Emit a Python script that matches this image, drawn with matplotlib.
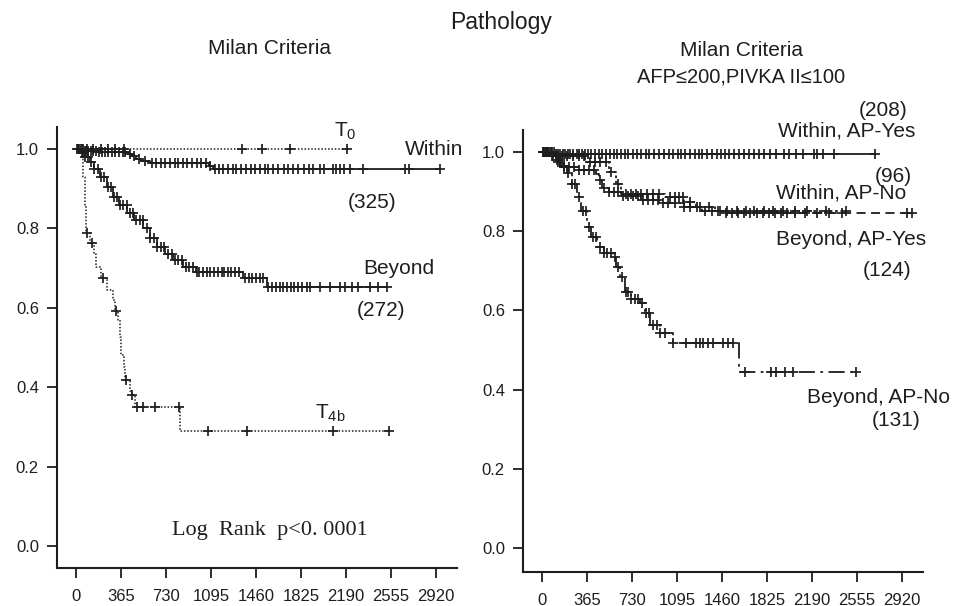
import numpy as np
import matplotlib
matplotlib.use('Agg')
import matplotlib.pyplot as plt

plt.rcParams['font.family'] = ['Liberation Sans', 'DejaVu Sans']

INK = '#1e1e1e'

# ---- left panel: Milan criteria (pathology) ----
t0_times = []
t0_surv = []
t0_end = 2198
t0_cens = [15, 45, 90, 140, 200, 260, 320, 390, 1346, 1508, 1736, 2198]

within_times = [60, 180, 420, 450, 490, 530, 600, 1080, 1110]
within_surv = [0.996, 0.992, 0.988, 0.982, 0.976, 0.971, 0.966, 0.958, 0.950]
within_end = 2952
within_cens = [10, 25, 40, 55, 70, 85, 100, 120, 140, 160, 185, 210, 235, 260, 290,
               320, 350, 380, 400, 440, 470, 510, 560, 620, 650, 690, 720, 760, 800,
               830, 870, 900, 940, 980, 1010, 1050, 1090, 1130, 1160, 1190, 1230,
               1270, 1300, 1340, 1380, 1420, 1450, 1490, 1530, 1560, 1600, 1640,
               1690, 1720, 1760, 1800, 1850, 1890, 1920, 1980, 2010, 2080, 2110,
               2140, 2170, 2220, 2330, 2670, 2700, 2952]

beyond_times = [30, 60, 114, 150, 195, 250, 303, 350, 411, 470, 546, 600, 655,
                720, 789, 870, 973, 1357, 1547]
beyond_surv = [0.990, 0.980, 0.968, 0.950, 0.930, 0.905, 0.880, 0.860, 0.838,
               0.820, 0.800, 0.775, 0.754, 0.735, 0.720, 0.703, 0.690, 0.676, 0.652]
beyond_end = 2522
beyond_cens = [20, 45, 70, 95, 125, 150, 175, 200, 230, 260, 285, 310, 335, 360,
               385, 410, 440, 465, 490, 520, 545, 575, 600, 630, 660, 690, 715, 745,
               775, 800, 830, 860, 890, 920, 950, 980, 1000, 1030, 1060, 1090, 1120,
               1150, 1180, 1200, 1230, 1260, 1290, 1320, 1370, 1400, 1430, 1460,
               1490, 1520, 1560, 1590, 1620, 1650, 1680, 1710, 1740, 1770, 1800,
               1830, 1870, 1900, 1979, 2060, 2141, 2182, 2238, 2287, 2385, 2450, 2522]

t4b_times = [57, 70, 80, 110, 150, 165, 200, 250, 300, 320, 340, 355, 365, 390,
             400, 440, 450, 475, 845]
t4b_surv = [0.93, 0.86, 0.788, 0.762, 0.735, 0.704, 0.674, 0.645, 0.62, 0.593,
            0.57, 0.527, 0.48, 0.45, 0.418, 0.39, 0.38, 0.349, 0.29]
t4b_end = 2541
t4b_cens = [92, 127, 216, 324, 405, 452, 492, 546, 641, 835, 1073, 1384, 2087, 2541]

# ---- right panel: Milan criteria + AFP / PIVKA II ----
wy_times = [100]
wy_surv = [0.995]
wy_end = 2703
wy_cens = [5, 20, 35, 50, 65, 80, 95, 110, 130, 150, 170, 190, 210, 230, 255, 280,
           300, 325, 350, 375, 400, 430, 460, 490, 520, 550, 580, 610, 640, 670,
           700, 735, 770, 800, 840, 870, 910, 950, 990, 1030, 1060, 1100, 1130,
           1160, 1200, 1240, 1270, 1300, 1340, 1380, 1420, 1450, 1480, 1520, 1560,
           1600, 1640, 1680, 1720, 1760, 1800, 1850, 1900, 1960, 2000, 2060, 2112,
           2209, 2233, 2274, 2371, 2703]

wn_times = [100, 350, 540, 600, 640, 1000, 1150, 1250, 1400]
wn_surv = [0.990, 0.975, 0.950, 0.920, 0.895, 0.887, 0.875, 0.862, 0.850]
wn_end = 2468
wn_cens = [30, 70, 110, 160, 200, 250, 300, 340, 390, 430, 470, 520, 560, 620, 680,
           720, 760, 800, 850, 900, 950, 1040, 1080, 1110, 1140, 1200, 1280, 1350,
           1430, 1500, 1580, 1650, 1720, 1800, 1870, 1950, 2050, 2150, 2300, 2468]

by_times = [60, 120, 150, 300, 440, 460, 490, 540, 650, 800, 950, 1150, 1300, 1450]
by_surv = [0.990, 0.975, 0.962, 0.955, 0.945, 0.930, 0.910, 0.900, 0.890, 0.880,
           0.870, 0.860, 0.850, 0.847]
by_end = 3003
by_cens = [15, 50, 90, 130, 180, 220, 260, 300, 340, 380, 420, 470, 500, 540, 580,
           620, 660, 700, 740, 780, 820, 860, 900, 940, 980, 1020, 1080, 1150, 1200,
           1260, 1320, 1380, 1440, 1490, 1540, 1590, 1640, 1690, 1740, 1790, 1840,
           1890, 1940, 1990, 2050, 2130, 2230, 2330, 2430, 2960, 3003]

bn_times = [60, 119, 160, 200, 240, 281, 320, 362, 400, 443, 500, 578, 600, 631,
            672, 720, 793, 834, 874, 955, 1063, 1597]
bn_surv = [0.990, 0.980, 0.965, 0.946, 0.920, 0.887, 0.850, 0.811, 0.785, 0.761,
           0.745, 0.736, 0.710, 0.685, 0.647, 0.630, 0.618, 0.593, 0.563, 0.542,
           0.517, 0.445]
bn_end = 2547
bn_cens = [10, 40, 80, 120, 150, 180, 210, 240, 270, 300, 330, 355, 380, 410, 440,
           470, 500, 530, 560, 590, 620, 650, 680, 700, 720, 750, 780, 810, 840,
           870, 900, 930, 960, 1000, 1063, 1171, 1252, 1279, 1306, 1346, 1387, 1467,
           1508, 1548, 1643, 1859, 1900, 1967, 2034, 2547]

x_ticks = [0, 365, 730, 1095, 1460, 1825, 2190, 2555, 2920]
y_ticks = [0.0, 0.2, 0.4, 0.6, 0.8, 1.0]


def km_curve(ax, times, surv, end, cens, ls, lw=1.3):
    t = np.array([0] + list(times) + [end], dtype=float)
    s = np.array([1.0] + list(surv) + [surv[-1] if surv else 1.0])
    ax.step(t, s, where='post', color=INK, lw=lw, linestyle=ls)
    # censor marks on the curve
    idx = np.searchsorted(t, np.array(cens, dtype=float), side='right') - 1
    ax.plot(cens, s[idx], linestyle='none', marker='+', ms=7.5, mew=1.25, color=INK)


def style_axes(ax, ylim):
    ax.set_xlim(-154, 3088)
    ax.set_ylim(*ylim)
    for side in ['top', 'right']:
        ax.spines[side].set_visible(False)
    for side in ['left', 'bottom']:
        ax.spines[side].set_linewidth(1.5)
        ax.spines[side].set_color(INK)
    ax.set_xticks(x_ticks)
    ax.set_yticks(y_ticks)
    ax.set_yticklabels(['%.1f' % v for v in y_ticks])
    ax.tick_params(direction='out', length=7, width=1.3, colors=INK,
                   labelsize=12, pad=6)
    ax.tick_params(axis='x', pad=8)


fig = plt.figure(figsize=(9.66, 6.06), dpi=100)

ax1 = fig.add_axes([0.059, 0.0627, 0.414, 0.7277])
km_curve(ax1, t0_times, t0_surv, t0_end, t0_cens, (0, (1, 1.2)), lw=1.1)
km_curve(ax1, within_times, within_surv, within_end, within_cens, '-')
km_curve(ax1, beyond_times, beyond_surv, beyond_end, beyond_cens, '-')
km_curve(ax1, t4b_times, t4b_surv, t4b_end, t4b_cens, (0, (1, 1.2)), lw=1.1)
style_axes(ax1, (-0.0554, 1.0554))

lab = dict(fontsize=15, color=INK, ha='center', va='center', clip_on=False)
ax1.text(2182, 1.045, r'T$_\mathregular{0}$', **lab)
ax1.text(2904, 1.0, 'Within', **lab)
ax1.text(2401, 0.866, '(325)', **lab)
ax1.text(2620, 0.70, 'Beyond', **lab)
ax1.text(2474, 0.592, '(272)', **lab)
ax1.text(2060, 0.335, r'T$_\mathregular{4b}$', **lab)
ax1.text(1574, 0.038, 'Log  Rank  p<0. 0001', fontsize=16, color=INK,
         ha='center', va='center', family=['Liberation Serif', 'DejaVu Serif'])

ax2 = fig.add_axes([0.5414, 0.0561, 0.414, 0.7294])
km_curve(ax2, wy_times, wy_surv, wy_end, wy_cens, '-')
km_curve(ax2, wn_times, wn_surv, wn_end, wn_cens, (0, (1.5, 1.5)))
km_curve(ax2, by_times, by_surv, by_end, by_cens, (0, (5, 3)))
km_curve(ax2, bn_times, bn_surv, bn_end, bn_cens, (0, (9, 3, 1.5, 3)))
style_axes(ax2, (-0.0606, 1.0556))

ax2.text(2768, 1.106, '(208)', **lab)
ax2.text(2468, 1.053, 'Within, AP-Yes', **lab)
ax2.text(2849, 0.939, '(96)', **lab)
ax2.text(2428, 0.896, 'Within, AP-No', **lab)
ax2.text(2509, 0.778, 'Beyond, AP-Yes', **lab)
ax2.text(2800, 0.702, '(124)', **lab)
ax2.text(2727, 0.379, 'Beyond, AP-No', **lab)
ax2.text(2873, 0.323, '(131)', **lab)

# titles
fig.text(501 / 966, 1 - 23 / 606, 'Pathology', fontsize=16.5, color=INK,
         ha='center', va='center')
fig.text(270 / 966, 1 - 48 / 606, 'Milan Criteria', fontsize=15, color=INK,
         ha='center', va='center')
fig.text(741 / 966, 1 - 50 / 606, 'Milan Criteria', fontsize=15, color=INK,
         ha='center', va='center')
fig.text(741 / 966, 1 - 77 / 606, 'AFP\u2264200,PIVKA II\u2264100', fontsize=14.5,
         color=INK, ha='center', va='center')

fig.savefig('out.png', dpi=100, facecolor='white')
